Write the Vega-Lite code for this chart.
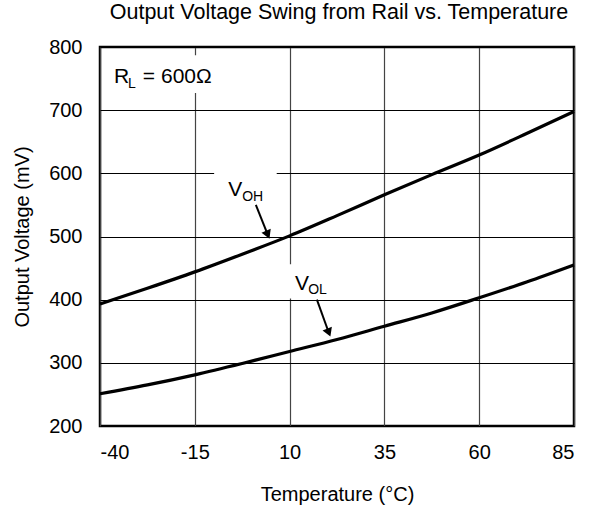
{
  "$schema": "https://vega.github.io/schema/vega-lite/v6.json",
  "autosize": {"type": "none"},
  "width": 474,
  "height": 379,
  "padding": {"left": 100, "top": 47, "right": 22, "bottom": 84},
  "background": "white",
  "config": {
    "font": "Liberation Sans",
    "view": {"stroke": "black", "strokeWidth": 2.5},
    "axis": {
      "domain": false,
      "ticks": false,
      "labelFont": "Liberation Sans",
      "titleFont": "Liberation Sans",
      "labelFontSize": 20,
      "titleFontSize": 20,
      "labelColor": "black",
      "titleColor": "black",
      "titleFontWeight": "normal",
      "gridOpacity": 1,
      "gridWidth": 1.2
    }
  },
  "title": {
    "text": "Output Voltage Swing from Rail vs. Temperature",
    "font": "Liberation Sans",
    "fontSize": 21.5,
    "fontWeight": "normal",
    "color": "black",
    "anchor": "middle",
    "dx": 2,
    "offset": 14
  },
  "datasets": {
    "curves": [
      {"t": -40, "v": 393, "s": "VOH"}, {"t": -27.5, "v": 418, "s": "VOH"}, {"t": -15, "v": 444, "s": "VOH"},
      {"t": -2.5, "v": 472, "s": "VOH"}, {"t": 10, "v": 501, "s": "VOH"}, {"t": 22.5, "v": 533, "s": "VOH"},
      {"t": 35, "v": 566, "s": "VOH"}, {"t": 47.5, "v": 598, "s": "VOH"}, {"t": 60, "v": 629, "s": "VOH"},
      {"t": 72.5, "v": 663, "s": "VOH"}, {"t": 85, "v": 698, "s": "VOH"},
      {"t": -40, "v": 251, "s": "VOL"}, {"t": -27.5, "v": 265, "s": "VOL"}, {"t": -15, "v": 281, "s": "VOL"},
      {"t": -2.5, "v": 299, "s": "VOL"}, {"t": 10, "v": 318, "s": "VOL"}, {"t": 22.5, "v": 337, "s": "VOL"},
      {"t": 35, "v": 358, "s": "VOL"}, {"t": 47.5, "v": 379, "s": "VOL"}, {"t": 60, "v": 403, "s": "VOL"},
      {"t": 72.5, "v": 428, "s": "VOL"}, {"t": 85, "v": 455, "s": "VOL"}
    ],
    "boxes": [
      {"t1": -38.7, "t2": -9.7, "v1": 727, "v2": 787},
      {"t1": -9.9, "t2": 6.6, "v1": 545, "v2": 615},
      {"t1": 8.8, "t2": 20.7, "v1": 402, "v2": 456}
    ],
    "bigText": [
      {"t": -36.3, "v": 743, "label": "R"},
      {"t": -28.7, "v": 743, "label": "= 600Ω"},
      {"t": -6.2, "v": 564, "label": "V"},
      {"t": 11.4, "v": 415, "label": "V"}
    ],
    "subText": [
      {"t": -32.6, "v": 735, "label": "L"},
      {"t": -2.5, "v": 556, "label": "OH"},
      {"t": 14.9, "v": 409, "label": "OL"}
    ],
    "arrows": [
      {"t1": 1.1, "v1": 550, "t2": 4.1, "v2": 505, "ang": 157},
      {"t1": 17.2, "v1": 400, "t2": 20.2, "v2": 350, "ang": 158.5}
    ]
  },
  "encoding": {
    "x": {
      "field": "t", "type": "quantitative",
      "scale": {"domain": [-40, 85], "nice": false, "zero": false},
      "axis": {"values": [-40, -15, 10, 35, 60, 85], "labelExpr": "'' + datum.value", "title": "Temperature (°C)", "labelPadding": 16, "titlePadding": 22, "gridColor": "#444"}
    },
    "y": {
      "field": "v", "type": "quantitative",
      "scale": {"domain": [200, 800], "nice": false, "zero": false},
      "axis": {"values": [200, 300, 400, 500, 600, 700, 800], "title": "Output Voltage (mV)", "labelPadding": 18, "titlePadding": 16, "gridColor": "#000"}
    }
  },
  "layer": [
    {
      "data": {"name": "boxes"},
      "mark": {"type": "rect", "fill": "white", "stroke": null},
      "encoding": {
        "x": {"field": "t1", "type": "quantitative"},
        "x2": {"field": "t2"},
        "y": {"field": "v1", "type": "quantitative"},
        "y2": {"field": "v2"}
      }
    },
    {
      "data": {"name": "curves"},
      "mark": {"type": "line", "color": "black", "strokeWidth": 3.2, "interpolate": "monotone"},
      "encoding": {"detail": {"field": "s"}}
    },
    {
      "data": {"name": "arrows"},
      "mark": {"type": "rule", "color": "black", "strokeWidth": 2},
      "encoding": {
        "x": {"field": "t1", "type": "quantitative"},
        "y": {"field": "v1", "type": "quantitative"},
        "x2": {"field": "t2"},
        "y2": {"field": "v2"}
      }
    },
    {
      "data": {"name": "arrows"},
      "mark": {"type": "point", "shape": "triangle", "filled": true, "color": "black", "size": 100, "opacity": 1},
      "encoding": {
        "x": {"field": "t2", "type": "quantitative"},
        "y": {"field": "v2", "type": "quantitative"},
        "angle": {"field": "ang", "type": "quantitative", "scale": null}
      }
    },
    {
      "data": {"name": "bigText"},
      "mark": {"type": "text", "align": "left", "baseline": "alphabetic", "fontSize": 21, "font": "Liberation Sans", "color": "black"},
      "encoding": {"text": {"field": "label"}}
    },
    {
      "data": {"name": "subText"},
      "mark": {"type": "text", "align": "left", "baseline": "alphabetic", "fontSize": 14, "font": "Liberation Sans", "color": "black"},
      "encoding": {"text": {"field": "label"}}
    }
  ]
}
